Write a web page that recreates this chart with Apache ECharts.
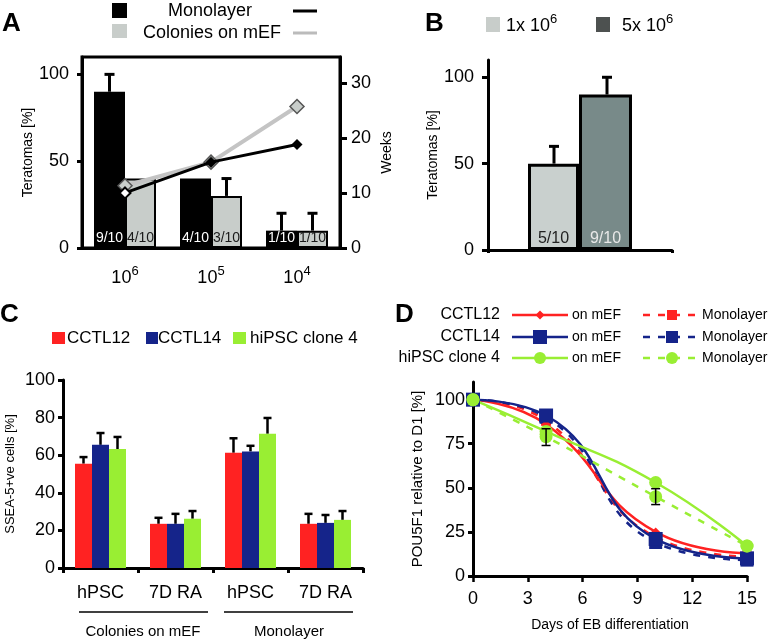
<!DOCTYPE html>
<html>
<head>
<meta charset="utf-8">
<script src="https://cdn.jsdelivr.net/npm/echarts@6/dist/echarts.min.js"></script>
<style>
html,body{margin:0;padding:0;background:#fff;}
#c{width:771px;height:643px;}
</style>
</head>
<body>
<div id="c"></div>
<script>
// ---------- Panel A data ----------
const A_exponents = ['6', '5', '4'];
const A_mono = [90, 40, 10];
const A_mono_err = [100, null, 20];
const A_col = [40, 30, 10];
const A_col_err = [null, 40, 20];
const A_mono_labels = ['9/10', '4/10', '1/10'];
const A_col_labels = ['4/10', '3/10', '1/10'];
const A_mono_weeks = [10, 15.6, 18.8];
const A_col_weeks = [11.3, 15.6, 25.7];
const A_left_ticks = [0, 50, 100];
const A_right_ticks = [0, 10, 20, 30];

// ---------- Panel B data ----------
const B_categories = [''];
const B_1e6 = [50];
const B_1e6_err = [60];
const B_5e6 = [90];
const B_5e6_err = [100];
const B_1e6_labels = ['5/10'];
const B_5e6_labels = ['9/10'];
const B_ticks = [0, 50, 100];

// ---------- Panel C data ----------
const C_categories = ['hPSC', '7D RA', 'hPSC', '7D RA'];
const C_cctl12 = [55.5, 23.5, 61.3, 23.5];
const C_cctl12_err = [59, 26.7, 69, 28.8];
const C_cctl14 = [65.5, 23.5, 62, 24];
const C_cctl14_err = [71.8, 28.8, 65, 28.2];
const C_hipsc = [63.3, 26.2, 71.4, 25.6];
const C_hipsc_err = [69.7, 30.3, 79.8, 30.3];

// ---------- Panel D data ----------
const D_days = [0, 4, 10, 15];
const D_cctl12_mef = [100, 86, 25, 13];
const D_cctl12_mono = [100, 88, 22, 11];
const D_cctl14_mef = [100, 91, 21, 10];
const D_cctl14_mono = [100, 90, 19, 9];
const D_hipsc_mef = [100, 82, 53, 17];
const D_hipsc_mono = [100, 79, 45, 17];
const D_hipsc_mono_errLow = [null, 74, 40.5, null];
const D_hipsc_mono_errHigh = [null, 83.5, 49.5, null];
const D_y_ticks = [0, 25, 50, 75, 100];

const FONT = 'Liberation Sans, Arial, sans-serif';
const RED = '#ff2222', BLUE = '#15248a', GREEN = '#99ee33';
const LGRAY = '#c8cdca';

function pairs(xs, ys) { return xs.map((x, i) => [x, ys[i]]); }
function errData(vals, tops) {
  const out = [];
  vals.forEach((v, i) => { if (tops[i] != null) out.push([i, v, tops[i]]); });
  return out;
}
function errRender(offset, capW, lw) {
  return function (params, api) {
    const x = api.value(0);
    const p0 = api.coord([x, api.value(1)]);
    const p1 = api.coord([x, api.value(2)]);
    const cx = p0[0] + offset;
    const st = { stroke: '#000', lineWidth: lw };
    return { type: 'group', children: [
      { type: 'line', shape: { x1: cx, y1: p0[1], x2: cx, y2: p1[1] }, style: st },
      { type: 'line', shape: { x1: cx - capW / 2, y1: p1[1], x2: cx + capW / 2, y2: p1[1] }, style: st }
    ]};
  };
}
function errRenderBoth(capW, lw) {
  return function (params, api) {
    const x = api.value(0);
    const p0 = api.coord([x, api.value(1)]);
    const p1 = api.coord([x, api.value(2)]);
    const st = { stroke: '#000', lineWidth: lw };
    return { type: 'group', children: [
      { type: 'line', shape: { x1: p0[0], y1: p0[1], x2: p0[0], y2: p1[1] }, style: st },
      { type: 'line', shape: { x1: p0[0] - capW / 2, y1: p0[1], x2: p0[0] + capW / 2, y2: p0[1] }, style: st },
      { type: 'line', shape: { x1: p0[0] - capW / 2, y1: p1[1], x2: p0[0] + capW / 2, y2: p1[1] }, style: st }
    ]};
  };
}

const axisLineStyle = { show: true, lineStyle: { color: '#000', width: 3 } };
const txt = (size, color) => ({ fontFamily: FONT, fontSize: size, color: color || '#000' });

// ---------- graphic (legends, panel letters, group labels) ----------
function gText(x, y, text, size, opts) {
  return { type: 'text', x: x, y: y, silent: true,
    style: { text: text, font: (opts && opts.bold ? 'bold ' : '') + size + 'px ' + FONT,
      fill: '#000', textVerticalAlign: 'middle', textAlign: (opts && opts.align) || 'left' } };
}
function gSup(x, y, base, sup) {
  return { type: 'text', x: x, y: y, silent: true, style: { text: '{b|' + base + '}{s|' + sup + '}', textVerticalAlign: 'middle',
    rich: { b: { fontFamily: FONT, fontSize: 18, fill: '#000', lineHeight: 22, verticalAlign: 'bottom' },
            s: { fontFamily: FONT, fontSize: 13, fill: '#000', lineHeight: 13, verticalAlign: 'top' } } } };
}
function gRect(x, y, w, h, color) {
  return { type: 'rect', shape: { x: x, y: y, width: w, height: h }, style: { fill: color }, silent: true };
}
function gLine(x1, y1, x2, y2, color, w, dash) {
  return { type: 'line', shape: { x1: x1, y1: y1, x2: x2, y2: y2 }, style: { stroke: color, lineWidth: w, lineDash: dash || null }, silent: true };
}
function gDiamond(cx, cy, r, color) {
  return { type: 'polygon', shape: { points: [[cx, cy - r], [cx + r, cy], [cx, cy + r], [cx - r, cy]] }, style: { fill: color }, silent: true };
}
function gCircle(cx, cy, r, color) {
  return { type: 'circle', shape: { cx: cx, cy: cy, r: r }, style: { fill: color }, silent: true };
}
const graphics = [
  gText(2, 24, 'A', 26, { bold: true }),
  gText(425, 24, 'B', 26, { bold: true }),
  gText(0, 315, 'C', 26, { bold: true }),
  gText(395, 315, 'D', 26, { bold: true }),
  // A legend
  gRect(112, 3, 15, 15, '#000'),
  gRect(112, 24, 15, 14, LGRAY),
  gText(210, 11, 'Monolayer', 18, { align: 'center' }),
  gText(143, 33, 'Colonies on mEF', 18),
  gLine(293, 11, 317, 11, '#000', 3),
  gLine(293, 33, 317, 33, '#bbbbbb', 3),
  // B legend
  gRect(486, 17, 14, 15, LGRAY),
  gRect(596, 17, 14, 15, '#4d5150'),
  gSup(506, 24, '1x 10', '6'),
  gSup(622, 24, '5x 10', '6'),
  // C legend
  gRect(52, 332, 13, 12, RED), gText(67, 338, 'CCTL12', 17),
  gRect(146, 332, 12, 12, BLUE), gText(158, 338, 'CCTL14', 17),
  gRect(233, 332, 13, 12, GREEN), gText(250, 338, 'hiPSC clone 4', 17),
  // C group labels
  gLine(79, 612, 208, 612, '#000', 1.5),
  gLine(224, 612, 353, 612, '#000', 1.5),
  gText(143, 632, 'Colonies on mEF', 15, { align: 'center' }),
  gText(289, 632, 'Monolayer', 15, { align: 'center' }),
  // D legend
  gText(500, 315, 'CCTL12', 16, { align: 'right' }),
  gText(500, 337, 'CCTL14', 16, { align: 'right' }),
  gText(500, 358, 'hiPSC clone 4', 16, { align: 'right' }),
  gLine(512, 315, 568, 315, RED, 2.5), gDiamond(540, 315, 4.5, RED),
  gLine(512, 337, 568, 337, BLUE, 2.5), gRect(533, 330, 14, 14, BLUE),
  gLine(512, 358, 568, 358, GREEN, 2.5), gCircle(540, 358, 6, GREEN),
  gText(572, 315, 'on mEF', 14), gText(572, 337, 'on mEF', 14), gText(572, 358, 'on mEF', 14),
  gLine(643, 315, 700, 315, RED, 2.5, [7, 8]), gRect(667, 310, 10, 10, RED),
  gLine(643, 337, 700, 337, BLUE, 2.5, [7, 8]), gRect(666, 331, 12, 12, BLUE),
  gLine(643, 358, 700, 358, GREEN, 2.5, [7, 8]), gCircle(672, 358, 6, GREEN),
  gText(702, 315, 'Monolayer', 14), gText(702, 337, 'Monolayer', 14), gText(702, 358, 'Monolayer', 14)
];

const barLabel = (labels, color, size) => ({ show: true, position: 'insideBottom', distance: 3,
  formatter: p => labels[p.dataIndex], fontFamily: FONT, fontSize: size, color: color,
  textBorderWidth: 0, textBorderColor: 'transparent', textShadowBlur: 0, opacity: 1 });

const option = {
  animation: false,
  backgroundColor: '#fff',
  textStyle: { fontFamily: FONT },
  graphic: graphics,
  grid: [
    { left: 82, top: 57, width: 258, height: 191, show: true, borderColor: '#000', borderWidth: 3, backgroundColor: 'transparent' },
    { left: 488, top: 60, width: 184, height: 190 },
    { left: 63, top: 380, width: 300, height: 188 },
    { left: 473, top: 382, width: 274, height: 194 }
  ],
  xAxis: [
    { type: 'category', gridIndex: 0, data: A_exponents, axisLine: axisLineStyle, axisTick: { show: false },
      axisLabel: { margin: 17, formatter: e => '{b|10}{s|' + e + '}',
        rich: { b: Object.assign(txt(18), { lineHeight: 22, verticalAlign: 'bottom' }),
                s: Object.assign(txt(13), { lineHeight: 13, verticalAlign: 'top' }) } } },
    { type: 'category', gridIndex: 1, data: B_categories, axisLine: axisLineStyle,
      axisTick: { show: true, length: 3, lineStyle: { width: 3 } }, axisLabel: { show: false } },
    { type: 'category', gridIndex: 2, data: C_categories, axisLine: axisLineStyle,
      axisTick: { show: true, length: 5, lineStyle: { width: 3 } },
      axisLabel: Object.assign(txt(18), { margin: 16 }) },
    { type: 'value', gridIndex: 3, min: 0, max: 15, interval: 3, axisLine: axisLineStyle,
      axisTick: { show: true, length: 6, lineStyle: { width: 2.5 } }, splitLine: { show: false },
      axisLabel: Object.assign(txt(18), { margin: 14 }),
      name: 'Days of EB differentiation', nameLocation: 'middle', nameGap: 42, nameTextStyle: txt(14) }
  ],
  yAxis: [
    { type: 'value', gridIndex: 0, min: 0, max: 110, axisLine: axisLineStyle, splitLine: { show: false },
      axisTick: { show: true, length: 5, lineStyle: { width: 3 }, customValues: A_left_ticks },
      axisLabel: Object.assign(txt(18), { margin: 13, customValues: A_left_ticks }),
      name: 'Teratomas [%]', nameLocation: 'middle', nameGap: 46, nameTextStyle: txt(14) },
    { type: 'value', gridIndex: 0, position: 'right', min: 0, max: 34.7, axisLine: axisLineStyle, splitLine: { show: false },
      axisTick: { show: true, length: 7, lineStyle: { width: 3 }, customValues: A_right_ticks },
      axisLabel: Object.assign(txt(18), { margin: 11, customValues: A_right_ticks }),
      name: 'Weeks', nameLocation: 'middle', nameGap: 40, nameRotate: 90, nameTextStyle: txt(14) },
    { type: 'value', gridIndex: 1, min: 0, max: 110, axisLine: axisLineStyle, splitLine: { show: false },
      axisTick: { show: true, length: 6, lineStyle: { width: 3 }, customValues: B_ticks },
      axisLabel: Object.assign(txt(18), { margin: 14, customValues: B_ticks }),
      name: 'Teratomas [%]', nameLocation: 'middle', nameGap: 47, nameTextStyle: txt(14) },
    { type: 'value', gridIndex: 2, min: 0, max: 100, interval: 20, axisLine: axisLineStyle, splitLine: { show: false },
      axisTick: { show: true, length: 5, lineStyle: { width: 3 } },
      axisLabel: Object.assign(txt(18), { margin: 8 }),
      name: 'SSEA-5+ve cells [%]', nameLocation: 'middle', nameGap: 46, nameTextStyle: txt(13) },
    { type: 'value', gridIndex: 3, min: 0, max: 110, axisLine: axisLineStyle, splitLine: { show: false },
      axisTick: { show: true, length: 5, lineStyle: { width: 3 }, customValues: D_y_ticks },
      axisLabel: Object.assign(txt(18), { margin: 8, customValues: D_y_ticks }),
      name: 'POU5F1 relative to D1 [%]', nameLocation: 'middle', nameGap: 48, nameTextStyle: txt(15) }
  ],
  series: [
    // ----- A -----
    { type: 'bar', name: 'Monolayer', xAxisIndex: 0, yAxisIndex: 0, data: A_mono, barWidth: 31, barGap: '0%',
      itemStyle: { color: '#000' }, label: barLabel(A_mono_labels, '#fff', 14) },
    { type: 'bar', name: 'Colonies on mEF', xAxisIndex: 0, yAxisIndex: 0, data: A_col, barWidth: 31, barGap: '0%',
      itemStyle: { color: LGRAY, borderColor: '#000', borderWidth: 2 }, label: barLabel(A_col_labels, '#1a1a1a', 14) },
    { type: 'custom', xAxisIndex: 0, yAxisIndex: 0, renderItem: errRender(-15.5, 10, 3), data: errData(A_mono, A_mono_err), encode: { x: 0, y: 2 }, z: 1 },
    { type: 'custom', xAxisIndex: 0, yAxisIndex: 0, renderItem: errRender(15.5, 10, 3), data: errData(A_col, A_col_err), encode: { x: 0, y: 2 }, z: 1 },
    { type: 'line', name: 'Monolayer weeks', xAxisIndex: 0, yAxisIndex: 1, z: 5,
      data: A_mono_weeks.map((v, i) => i === 0 ? { value: v, itemStyle: { color: '#fff', borderColor: '#000', borderWidth: 2 } } : v),
      lineStyle: { color: '#000', width: 3 }, itemStyle: { color: '#000' }, symbol: 'diamond', symbolSize: 11, showAllSymbol: true },
    { type: 'line', name: 'Colonies weeks', xAxisIndex: 0, yAxisIndex: 1, data: A_col_weeks, z: 4,
      lineStyle: { color: '#c4c4c4', width: 4 }, itemStyle: { color: LGRAY, borderColor: '#555', borderWidth: 1.5 }, symbol: 'diamond', symbolSize: 14, showAllSymbol: true },
    // ----- B -----
    { type: 'bar', name: '1x 10^6', xAxisIndex: 1, yAxisIndex: 2, data: B_1e6, barWidth: 51, barGap: '0%',
      itemStyle: { color: '#c9d0ce', borderColor: '#000', borderWidth: 3 }, label: barLabel(B_1e6_labels, '#222', 16) },
    { type: 'bar', name: '5x 10^6', xAxisIndex: 1, yAxisIndex: 2, data: B_5e6, barWidth: 53, barGap: '0%',
      itemStyle: { color: '#788a89', borderColor: '#000', borderWidth: 3 }, label: barLabel(B_5e6_labels, '#e8e8e8', 16) },
    { type: 'custom', xAxisIndex: 1, yAxisIndex: 2, renderItem: errRender(-26, 10, 3), data: errData(B_1e6, B_1e6_err), encode: { x: 0, y: 2 } },
    { type: 'custom', xAxisIndex: 1, yAxisIndex: 2, renderItem: errRender(27, 10, 3), data: errData(B_5e6, B_5e6_err), encode: { x: 0, y: 2 } },
    // ----- C -----
    { type: 'bar', name: 'CCTL12', xAxisIndex: 2, yAxisIndex: 3, data: C_cctl12, barWidth: 17, barGap: '0%', itemStyle: { color: RED } },
    { type: 'bar', name: 'CCTL14', xAxisIndex: 2, yAxisIndex: 3, data: C_cctl14, barWidth: 17, barGap: '0%', itemStyle: { color: BLUE } },
    { type: 'bar', name: 'hiPSC clone 4', xAxisIndex: 2, yAxisIndex: 3, data: C_hipsc, barWidth: 17, barGap: '0%', itemStyle: { color: GREEN } },
    { type: 'custom', xAxisIndex: 2, yAxisIndex: 3, renderItem: errRender(-17, 8, 2.5), data: errData(C_cctl12, C_cctl12_err), encode: { x: 0, y: 2 } },
    { type: 'custom', xAxisIndex: 2, yAxisIndex: 3, renderItem: errRender(0, 8, 2.5), data: errData(C_cctl14, C_cctl14_err), encode: { x: 0, y: 2 } },
    { type: 'custom', xAxisIndex: 2, yAxisIndex: 3, renderItem: errRender(17, 8, 2.5), data: errData(C_hipsc, C_hipsc_err), encode: { x: 0, y: 2 } },
    // ----- D -----
    { type: 'line', name: 'CCTL12 Monolayer', xAxisIndex: 3, yAxisIndex: 4, data: pairs(D_days, D_cctl12_mono), smooth: 0.5,
      lineStyle: { color: RED, width: 2.5, type: [7, 8] }, itemStyle: { color: RED }, symbol: 'rect', symbolSize: 10 },
    { type: 'line', name: 'CCTL14 Monolayer', xAxisIndex: 3, yAxisIndex: 4, data: pairs(D_days, D_cctl14_mono), smooth: 0.5,
      lineStyle: { color: BLUE, width: 2.5, type: [7, 8] }, itemStyle: { color: BLUE }, symbol: 'rect', symbolSize: 13 },
    { type: 'line', name: 'CCTL12 on mEF', xAxisIndex: 3, yAxisIndex: 4, data: pairs(D_days, D_cctl12_mef), smooth: 0.5,
      lineStyle: { color: RED, width: 2.5 }, itemStyle: { color: RED }, symbol: 'diamond', symbolSize: 9 },
    { type: 'line', name: 'CCTL14 on mEF', xAxisIndex: 3, yAxisIndex: 4, data: pairs(D_days, D_cctl14_mef), smooth: 0.5,
      lineStyle: { color: BLUE, width: 2.5 }, itemStyle: { color: BLUE }, symbol: 'rect', symbolSize: 14 },
    { type: 'line', name: 'hiPSC clone 4 Monolayer', xAxisIndex: 3, yAxisIndex: 4, data: pairs(D_days, D_hipsc_mono), smooth: 0.5,
      lineStyle: { color: GREEN, width: 2.5, type: [7, 8] }, itemStyle: { color: GREEN }, symbol: 'circle', symbolSize: 13 },
    { type: 'line', name: 'hiPSC clone 4 on mEF', xAxisIndex: 3, yAxisIndex: 4, data: pairs(D_days, D_hipsc_mef), smooth: 0.5,
      lineStyle: { color: GREEN, width: 2.5 }, itemStyle: { color: GREEN }, symbol: 'circle', symbolSize: 13 },
    { type: 'custom', xAxisIndex: 3, yAxisIndex: 4, renderItem: errRenderBoth(9, 1.5), z: 10,
      data: D_days.map((d, i) => [d, D_hipsc_mono_errLow[i], D_hipsc_mono_errHigh[i]]).filter(r => r[1] != null), encode: { x: 0, y: 2 } }
  ]
};

const chart = echarts.init(document.getElementById('c'), null, { renderer: 'canvas' });
chart.setOption(option);
</script>
</body>
</html>
